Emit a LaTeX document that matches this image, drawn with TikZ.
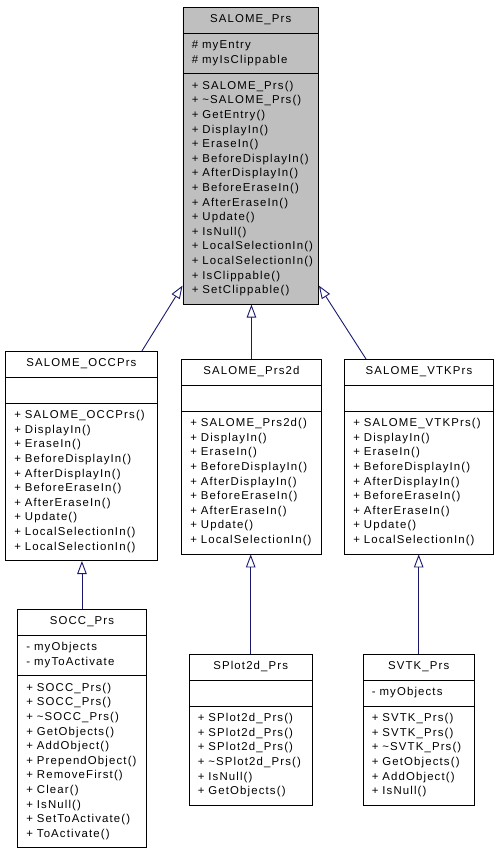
\documentclass[tikz,border=0pt]{standalone}
\usepackage{fontspec}
\setmainfont{Liberation Sans}[LetterSpace=10]
\usepackage{xcolor}
\usepackage{tikz}
\usetikzlibrary{shapes.multipart,arrows.meta}

\definecolor{clsgray}{RGB}{191,191,191}
\definecolor{edgeblue}{RGB}{25,25,112}
% first-line and last-line struts
\newcommand{\fs}{\rule{0pt}{11pt}}
\newcommand{\ls}{\rule[-6pt]{0pt}{6pt}}
\newcommand{\ttl}[1]{\makebox[\linewidth]{\fs#1\ls}}

\begin{document}
\begin{tikzpicture}[x=1pt, y=-1pt,
    cls/.style={rectangle split, rectangle split parts=3, draw, line width=0.9pt,
      anchor=north west, inner xsep=9pt, inner ysep=4pt, align=left,
      font=\fontsize{11.4pt}{14.6pt}\selectfont},
    inh/.style={draw=edgeblue, line width=0.9pt,
      -{Triangle[length=13pt, width=9.5pt, fill=white]}}]
    \useasboundingbox (0,0) rectangle (499,852);

    \node (prs) at (182.5,7) [cls, fill=clsgray, text width=117.5pt]
      {\ttl{SALOME\_Prs}
       \nodepart{two}\fs\# myEntry\\ \# myIsClippable\ls
       \nodepart{three}\fs+ SALOME\_Prs()\\ + \textasciitilde SALOME\_Prs()\\ + GetEntry()\\
       + DisplayIn()\\ + EraseIn()\\ + BeforeDisplayIn()\\ + AfterDisplayIn()\\
       + BeforeEraseIn()\\ + AfterEraseIn()\\ + Update()\\ + IsNull()\\
       + LocalSelectionIn()\\ + LocalSelectionIn()\\ + IsClippable()\\ + SetClippable()\ls};

    \node (occ) at (5,351) [cls, text width=134pt]
      {\ttl{SALOME\_OCCPrs}
       \nodepart{two}\fs\ls
       \nodepart{three}\fs+ SALOME\_OCCPrs()\\ + DisplayIn()\\ + EraseIn()\\
       + BeforeDisplayIn()\\ + AfterDisplayIn()\\ + BeforeEraseIn()\\
       + AfterEraseIn()\\ + Update()\\ + LocalSelectionIn()\\ + LocalSelectionIn()\ls};

    \node (prs2d) at (181,359) [cls, text width=122pt]
      {\ttl{SALOME\_Prs2d}
       \nodepart{two}\fs\ls
       \nodepart{three}\fs+ SALOME\_Prs2d()\\ + DisplayIn()\\ + EraseIn()\\
       + BeforeDisplayIn()\\ + AfterDisplayIn()\\ + BeforeEraseIn()\\
       + AfterEraseIn()\\ + Update()\\ + LocalSelectionIn()\ls};

    \node (vtk) at (344,359) [cls, text width=131pt]
      {\ttl{SALOME\_VTKPrs}
       \nodepart{two}\fs\ls
       \nodepart{three}\fs+ SALOME\_VTKPrs()\\ + DisplayIn()\\ + EraseIn()\\
       + BeforeDisplayIn()\\ + AfterDisplayIn()\\ + BeforeEraseIn()\\
       + AfterEraseIn()\\ + Update()\\ + LocalSelectionIn()\ls};

    \node (socc) at (17,609) [cls, text width=111pt]
      {\ttl{SOCC\_Prs}
       \nodepart{two}\fs- myObjects\\ - myToActivate\ls
       \nodepart{three}\fs+ SOCC\_Prs()\\ + SOCC\_Prs()\\ + \textasciitilde SOCC\_Prs()\\
       + GetObjects()\\ + AddObject()\\ + PrependObject()\\ + RemoveFirst()\\
       + Clear()\\ + IsNull()\\ + SetToActivate()\\ + ToActivate()\ls};

    \node (splot) at (188.5,654) [cls, text width=105.5pt]
      {\ttl{SPlot2d\_Prs}
       \nodepart{two}\fs\ls
       \nodepart{three}\fs+ SPlot2d\_Prs()\\ + SPlot2d\_Prs()\\ + SPlot2d\_Prs()\\
       + \textasciitilde SPlot2d\_Prs()\\ + IsNull()\\ + GetObjects()\ls};

    \node (svtk) at (362.5,654) [cls, text width=93.5pt]
      {\ttl{SVTK\_Prs}
       \nodepart{two}\fs- myObjects\ls
       \nodepart{three}\fs+ SVTK\_Prs()\\ + SVTK\_Prs()\\ + \textasciitilde SVTK\_Prs()\\
       + GetObjects()\\ + AddObject()\\ + IsNull()\ls};

    % inheritance
    \draw[inh] ([xshift=-16pt]occ.north east) -- ([yshift=19pt]prs.south west);
    \draw[inh] (prs2d.north) -- (prs2d.north |- prs.south);
    \draw[inh] ([xshift=22pt]vtk.north west) -- ([yshift=19pt]prs.south east);
    \draw[inh] (socc.north) -- (socc.north |- occ.south);
    \draw[inh] (splot.north) -- (splot.north |- prs2d.south);
    \draw[inh] (svtk.north) -- (svtk.north |- vtk.south);
\end{tikzpicture}
\end{document}
